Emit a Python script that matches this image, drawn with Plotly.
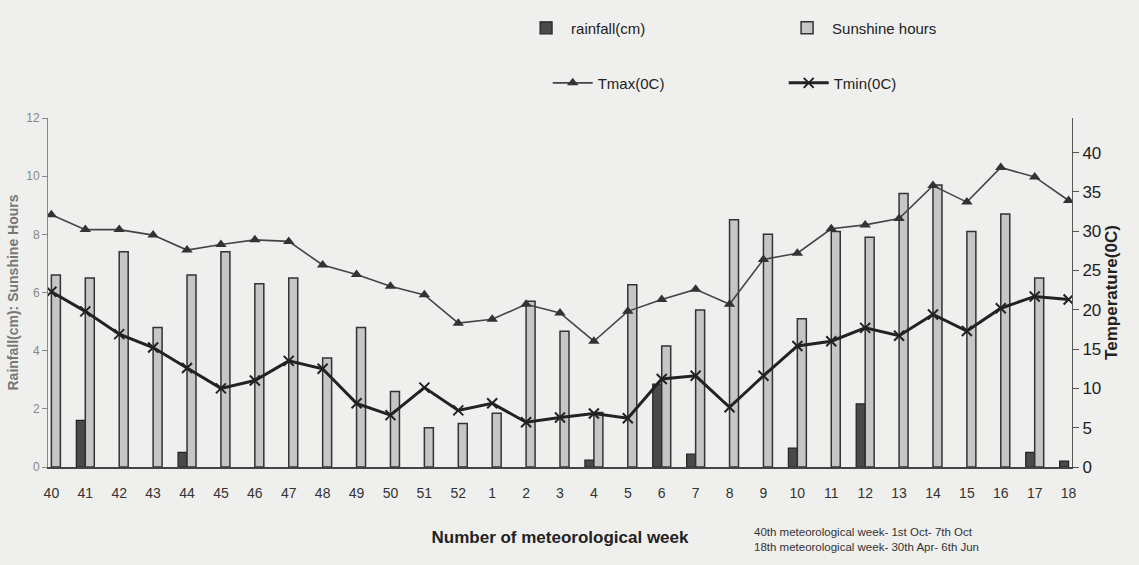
import plotly.graph_objects as go

weeks = ["40", "41", "42", "43", "44", "45", "46", "47", "48", "49", "50", "51", "52",
         "1", "2", "3", "4", "5", "6", "7", "8", "9", "10", "11", "12", "13", "14",
         "15", "16", "17", "18"]

# None = no bar visible for that week
rainfall = [None, 1.6, None, None, 0.5, None, None, None, None, None, None, None, None,
            None, None, None, 0.24, None, 2.85, 0.44, None, None, 0.65, None, 2.17, None, None,
            None, None, 0.5, 0.2]
sunshine = [6.6, 6.5, 7.4, 4.8, 6.6, 7.4, 6.3, 6.5, 3.75, 4.8, 2.6, 1.35, 1.5,
            1.85, 5.7, 4.67, 1.87, 6.27, 4.16, 5.4, 8.5, 8.0, 5.1, 8.1, 7.9, 9.4, 9.7,
            8.1, 8.7, 6.5, None]
tmax = [32.1, 30.2, 30.2, 29.5, 27.6, 28.3, 28.9, 28.7, 25.7, 24.5, 23.0, 21.9, 18.3,
        18.8, 20.7, 19.6, 16.0, 19.8, 21.3, 22.6, 20.7, 26.4, 27.2, 30.3, 30.8, 31.6, 35.8,
        33.7, 38.1, 36.9, 33.9]
tmin = [22.3, 19.8, 16.9, 15.2, 12.6, 10.0, 11.0, 13.5, 12.5, 8.1, 6.6, 10.1, 7.2,
        8.1, 5.7, 6.3, 6.8, 6.2, 11.2, 11.6, 7.6, 11.6, 15.4, 16.0, 17.7, 16.7, 19.4,
        17.3, 20.2, 21.7, 21.3]

left_ticks = [0, 2, 4, 6, 8, 10, 12]
right_ticks = [0, 5, 10, 15, 20, 25, 30, 35, 40]

FONT = "Liberation Sans, Arial, sans-serif"

fig = go.Figure()
fig.add_trace(go.Bar(x=weeks, y=rainfall, name="rainfall(cm)",
                     marker=dict(color="#4a4a4a", line=dict(color="#222", width=1.2)),
                     legend="legend"))
fig.add_trace(go.Bar(x=weeks, y=sunshine, name="Sunshine hours",
                     marker=dict(color="#c6c6c6", line=dict(color="#333", width=1.5)),
                     legend="legend"))
fig.add_trace(go.Scatter(x=weeks, y=tmax, name="Tmax(0C)", yaxis="y2", mode="lines+markers",
                         line=dict(color="#444", width=1.6),
                         marker=dict(symbol="triangle-up", size=10, color="#333"),
                         legend="legend2"))
fig.add_trace(go.Scatter(x=weeks, y=tmin, name="Tmin(0C)", yaxis="y2", mode="lines+markers",
                         line=dict(color="#222", width=3),
                         marker=dict(symbol="x-thin", size=10, color="#222",
                                     line=dict(color="#222", width=2)),
                         legend="legend2"))

fig.update_layout(
    width=1139, height=565,
    paper_bgcolor="#efefed", plot_bgcolor="rgba(0,0,0,0)",
    margin=dict(l=40, r=67, t=113, b=98),
    font=dict(family=FONT, color="#222"),
    barmode="group", bargap=0.47, bargroupgap=0,
    xaxis=dict(type="category", range=[-0.1, len(weeks) - 0.9],
               showgrid=False, showline=True, linecolor="#444", linewidth=1.5,
               ticks="", tickfont=dict(size=14, color="#333"), ticklabelstandoff=12,
               title=dict(text="<b>Number of meteorological week</b>",
                          font=dict(size=17, color="#222"), standoff=32)),
    yaxis=dict(range=[0, 12], tickvals=left_ticks, showgrid=False, zeroline=False,
               showline=True, linecolor="#888", linewidth=1, ticks="outside", ticklen=5,
               tickcolor="#888", tickfont=dict(size=12, color="#888"),
               title=dict(text="<b>Rainfall(cm): Sunshine Hours</b>",
                          font=dict(size=14, color="#777"), standoff=4)),
    yaxis2=dict(range=[0, 44.4], tickvals=right_ticks, overlaying="y", side="right",
                showgrid=False, zeroline=False, showline=True, linecolor="#555", linewidth=1,
                ticks="outside", ticklen=6, tickcolor="#555",
                tickfont=dict(size=17, color="#222"),
                title=dict(text="<b>Temperature(0C)</b>", font=dict(size=17, color="#222"),
                           standoff=4)),
    legend=dict(orientation="h", x=0.462, y=1.305, xanchor="left", yanchor="top",
                bgcolor="rgba(0,0,0,0)", font=dict(size=15, color="#222"),
                entrywidth=206, entrywidthmode="pixels", itemwidth=40),
    legend2=dict(orientation="h", x=0.488, y=1.1, xanchor="left", yanchor="middle",
                 bgcolor="rgba(0,0,0,0)", font=dict(size=15, color="#222"),
                 entrywidth=181, entrywidthmode="pixels", itemwidth=40),
    showlegend=True,
)

fig.add_annotation(text="40th meteorological week- 1st Oct- 7th Oct<br>18th meteorological week- 30th Apr- 6th Jun",
                   xref="paper", yref="paper", x=(750 - 40) / 1032, y=-(524 - 467) / 352,
                   xanchor="left", yanchor="top", showarrow=False, align="left",
                   font=dict(size=11.5, color="#333"))

fig.write_html("out.html", post_script="document.body.style.margin='0';",
               config={"displayModeBar": False})
